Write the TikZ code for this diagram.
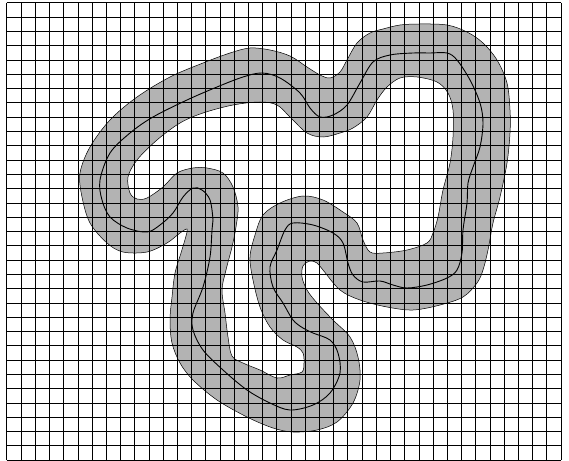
\documentclass[tikz,border=0pt]{standalone}
\usepackage{tikz}
\usetikzlibrary{calc}
\usepackage{xcolor}
\definecolor{banda}{RGB}{179,179,179}

\begin{document}
\begin{tikzpicture}[x=0.035cm, y=-0.035cm]
    \useasboundingbox (0,0) rectangle (569,461);

    % banda gris — borde exterior y hueco interior
    \fill[banda, even odd rule]
      plot[smooth cycle, tension=0.55] coordinates {
        (250,48) (270,50) (290,56) (307,67) (320,75) (330,78) (340,72)
        (347,60) (357,43) (370,33) (383,29) (400,25) (420,24) (447,25)
        (467,32) (483,43) (497,60) (507,83) (510,110) (510,133) (507,163)
        (500,197) (493,223) (488,250) (483,270) (477,283) (463,297)
        (440,305) (413,310) (387,307) (360,300) (340,290) (323,270)
        (317,263) (310,261) (303,266) (302,277) (307,290) (317,303)
        (333,320) (350,337) (358,357) (360,380) (353,403) (337,422)
        (317,430) (293,432) (273,428) (247,417) (217,400) (193,380)
        (180,363) (172,343) (170,320) (172,297) (175,273) (181,253)
        (186,236) (187,229) (180,233) (167,243) (147,252) (123,252)
        (107,243) (90,223) (82,197) (80,173) (90,147) (110,120) (137,97)
        (170,77) (203,63) (230,53)}
      plot[smooth cycle, tension=0.55] coordinates {
        (260,102) (277,105) (290,117) (307,133) (323,137) (340,133)
        (353,128) (367,117) (377,100) (387,87) (400,78) (417,77) (437,82)
        (448,93) (453,110) (453,137) (450,163) (443,190) (438,217)
        (433,233) (427,243) (407,250) (383,253) (370,252) (363,240)
        (357,223) (343,212) (323,200) (303,196) (280,203) (263,215)
        (255,235) (250,257) (253,280) (260,307) (270,327) (283,340)
        (297,347) (303,353) (304,363) (302,372) (290,375) (277,378)
        (260,370) (243,363) (232,356) (228,337) (225,313) (222,290)
        (226,270) (232,247) (236,227) (238,207) (233,187) (223,173)
        (207,168) (193,168) (177,173) (163,187) (147,198) (137,199)
        (130,193) (128,177) (137,160) (157,140) (180,123) (203,113)
        (233,105)};

    % contornos de la banda
    \draw[line width=0.5pt]
      plot[smooth cycle, tension=0.55] coordinates {
        (250,48) (270,50) (290,56) (307,67) (320,75) (330,78) (340,72)
        (347,60) (357,43) (370,33) (383,29) (400,25) (420,24) (447,25)
        (467,32) (483,43) (497,60) (507,83) (510,110) (510,133) (507,163)
        (500,197) (493,223) (488,250) (483,270) (477,283) (463,297)
        (440,305) (413,310) (387,307) (360,300) (340,290) (323,270)
        (317,263) (310,261) (303,266) (302,277) (307,290) (317,303)
        (333,320) (350,337) (358,357) (360,380) (353,403) (337,422)
        (317,430) (293,432) (273,428) (247,417) (217,400) (193,380)
        (180,363) (172,343) (170,320) (172,297) (175,273) (181,253)
        (186,236) (187,229) (180,233) (167,243) (147,252) (123,252)
        (107,243) (90,223) (82,197) (80,173) (90,147) (110,120) (137,97)
        (170,77) (203,63) (230,53)}
      plot[smooth cycle, tension=0.55] coordinates {
        (260,102) (277,105) (290,117) (307,133) (323,137) (340,133)
        (353,128) (367,117) (377,100) (387,87) (400,78) (417,77) (437,82)
        (448,93) (453,110) (453,137) (450,163) (443,190) (438,217)
        (433,233) (427,243) (407,250) (383,253) (370,252) (363,240)
        (357,223) (343,212) (323,200) (303,196) (280,203) (263,215)
        (255,235) (250,257) (253,280) (260,307) (270,327) (283,340)
        (297,347) (303,353) (304,363) (302,372) (290,375) (277,378)
        (260,370) (243,363) (232,356) (228,337) (225,313) (222,290)
        (226,270) (232,247) (236,227) (238,207) (233,187) (223,173)
        (207,168) (193,168) (177,173) (163,187) (147,198) (137,199)
        (130,193) (128,177) (137,160) (157,140) (180,123) (203,113)
        (233,105)};

    % curva central
    \draw[line width=0.9pt]
      plot[smooth cycle, tension=0.55] coordinates {
        (262,73) (280,78) (300,93) (310,108) (320,117) (333,115) (347,105)
        (360,83) (373,62) (390,55) (413,53) (430,53) (447,53) (457,60)
        (470,80) (480,103) (483,123) (480,147) (473,167) (468,183)
        (467,203) (463,230) (462,253) (457,270) (447,278) (427,285)
        (407,288) (393,285) (380,281) (363,282) (353,275) (348,263)
        (343,243) (333,233) (313,225) (293,223) (285,230) (277,250)
        (270,267) (273,287) (283,303) (293,320) (303,328) (313,333)
        (330,340) (338,353) (340,373) (330,393) (313,405) (290,410)
        (270,403) (247,390) (223,370) (203,350) (193,330) (193,313)
        (203,287) (210,257) (212,230) (213,220) (210,200) (202,190)
        (193,188) (183,197) (173,213) (160,225) (147,232) (127,228)
        (110,217) (102,200) (100,180) (110,153) (130,133) (153,117)
        (187,100) (217,87) (243,77)};

    % rejilla encima
    \foreach \i in {0,...,39}
      \draw[line width=0.5pt] ({6.7+14.21*\i},2.7) -- ({6.7+14.21*\i},460);
    \foreach \j in {0,...,32}
      \draw[line width=0.5pt] (6.7,{2.7+14.29*\j}) -- (560.9,{2.7+14.29*\j});
\end{tikzpicture}
\end{document}
